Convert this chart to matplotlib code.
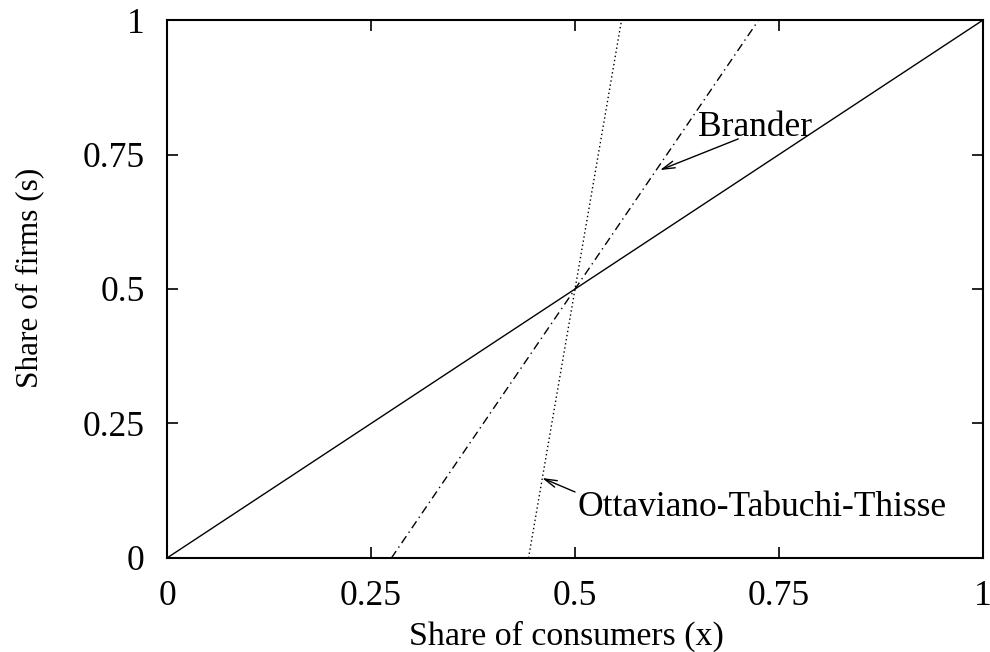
import matplotlib
matplotlib.use("Agg")
import matplotlib.pyplot as plt

# data
diag_x = [0, 1]
diag_y = [0, 1]
brander_x = [0.275, 0.725]
brander_y = [0, 1]
ott_x = [0.443, 0.557]
ott_y = [0, 1]
ticks = [0, 0.25, 0.5, 0.75, 1]
tick_labels = ["0", "0.25", "0.5", "0.75", "1"]

plt.rcParams['font.family'] = ['Liberation Serif', 'DejaVu Serif']
FS = 25.5

fig = plt.figure(figsize=(9.9, 6.52), dpi=100)
ax = fig.add_axes([0.1687, 0.1442, 0.993 - 0.1687, 0.9693 - 0.1442])

ax.plot(diag_x, diag_y, color='black', lw=1.0)
ax.plot(brander_x, brander_y, color='black', lw=1.0, linestyle=(0, (6, 3, 1, 3)))
ax.plot(ott_x, ott_y, color='black', lw=1.0, linestyle=(0, (1, 2)))

ax.set_xlim(0, 1)
ax.set_ylim(0, 1)
ax.set_xticks(ticks)
ax.set_xticklabels(tick_labels)
ax.set_yticks(ticks)
ax.set_yticklabels(tick_labels)
ax.tick_params(direction='in', length=8, width=1.2, labelsize=FS, top=True, right=True, pad=16)
for s in ax.spines.values():
    s.set_linewidth(1.5)

ax.set_xlabel("Share of consumers (x)", fontsize=24.4)
ax.xaxis.set_label_coords(0.49, -0.117)
ax.set_ylabel("Share of firms (s)", fontsize=22.5)
ax.yaxis.set_label_coords(-0.150, 0.52)

arrow_style = dict(arrowstyle='->,head_length=0.9,head_width=0.25', color='black', lw=1.0,
                   shrinkA=0, shrinkB=0)
ax.annotate("", xy=(0.604, 0.721), xytext=(0.70, 0.779), arrowprops=arrow_style)
ax.text(0.651, 0.80, "Brander", fontsize=FS, va='center', ha='left')
ax.annotate("", xy=(0.4596, 0.1487), xytext=(0.50, 0.1227), arrowprops=arrow_style)
ax.text(0.5025, 0.093, "Ottaviano-Tabuchi-Thisse", fontsize=FS, va='center', ha='left')

fig.savefig("out.png", dpi=100)
